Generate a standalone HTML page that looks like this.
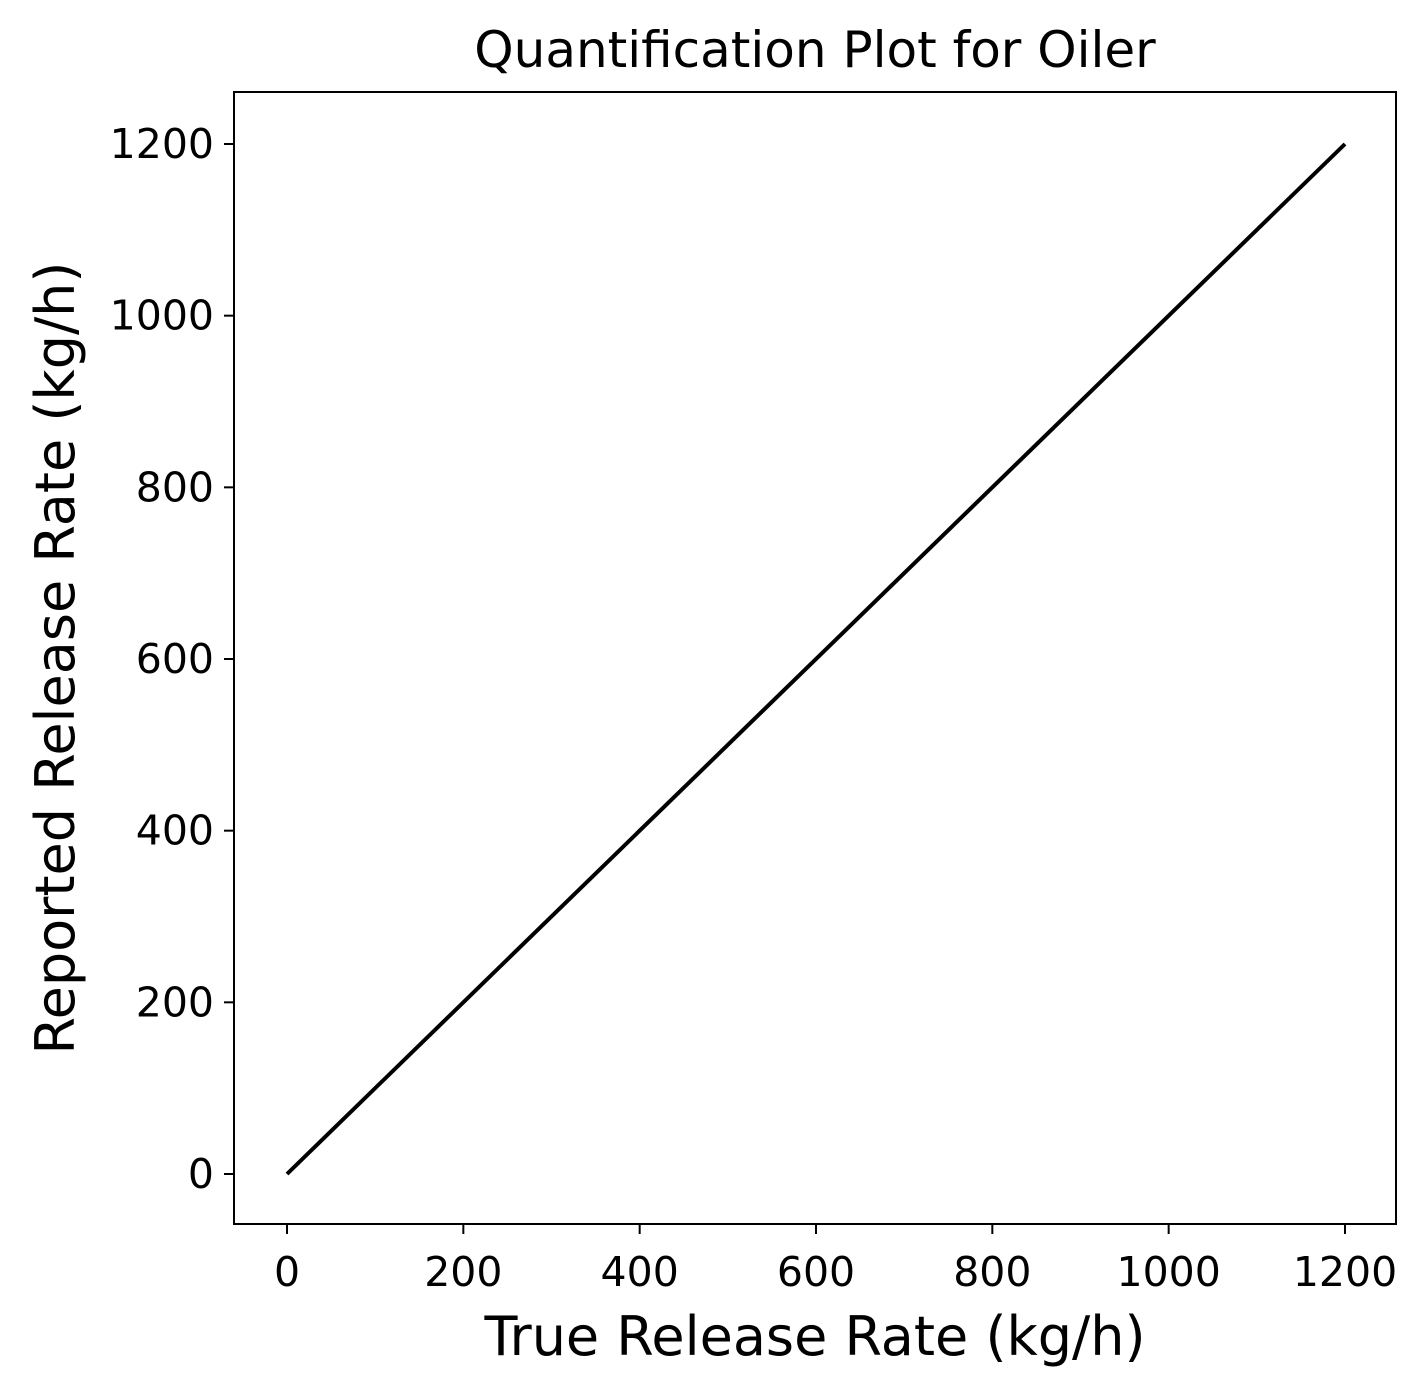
<!DOCTYPE html>
<html><head><meta charset="utf-8"><style>
html,body{margin:0;padding:0;background:#fff;}
svg{display:block;font-family:"DejaVu Sans","Liberation Sans",sans-serif;}
</style></head><body>
<svg id="chart" width="1426" height="1395" viewBox="0 0 1426 1395">
<rect x="0" y="0" width="1426" height="1395" fill="#fff"/>
<text x="815" y="67" text-anchor="middle" font-size="50">Quantification Plot for Oiler</text>
<g id="xticks"></g>
<g id="yticks"></g>
<g id="series"></g>
<rect x="234" y="92" width="1162" height="1132" fill="none" stroke="#000" stroke-width="2"/>
<text x="815" y="1355" text-anchor="middle" font-size="54">True Release Rate (kg/h)</text>
<text transform="translate(74,658) rotate(-90)" text-anchor="middle" font-size="54">Reported Release Rate (kg/h)</text>
</svg>
<script>
const xTicks = [0, 200, 400, 600, 800, 1000, 1200];
const yTicks = [0, 200, 400, 600, 800, 1000, 1200];
const lineX = [0, 1200];
const lineY = [0, 1200];
const NS = "http://www.w3.org/2000/svg";
function sx(v){ return 287 + v * (1345 - 287) / 1200; }
function sy(v){ return 1174 - v * (1174 - 144) / 1200; }
const gx = document.getElementById('xticks');
xTicks.forEach(t => {
  const l = document.createElementNS(NS,'line');
  l.setAttribute('x1', sx(t)); l.setAttribute('x2', sx(t));
  l.setAttribute('y1', 1224); l.setAttribute('y2', 1234);
  l.setAttribute('stroke', '#000'); l.setAttribute('stroke-width', 2);
  
  
  gx.appendChild(l);
  const tx = document.createElementNS(NS,'text');
  tx.setAttribute('x', sx(t)); tx.setAttribute('y', 1286);
  tx.setAttribute('text-anchor', 'middle'); tx.setAttribute('font-size', '41');
  tx.textContent = t;
  
  
  gx.appendChild(tx);
});
const gy = document.getElementById('yticks');
yTicks.forEach(t => {
  const l = document.createElementNS(NS,'line');
  l.setAttribute('x1', 224); l.setAttribute('x2', 234);
  l.setAttribute('y1', sy(t)); l.setAttribute('y2', sy(t));
  l.setAttribute('stroke', '#000'); l.setAttribute('stroke-width', 2);
  
  
  gy.appendChild(l);
  const tx = document.createElementNS(NS,'text');
  tx.setAttribute('x', 214); tx.setAttribute('y', sy(t) + 14);
  tx.setAttribute('text-anchor', 'end'); tx.setAttribute('font-size', '41');
  tx.textContent = t;
  
  
  gy.appendChild(tx);
});
const gs = document.getElementById('series');
const p = document.createElementNS(NS,'polyline');
p.setAttribute('points', lineX.map((x,i) => sx(x) + ',' + sy(lineY[i])).join(' '));
p.setAttribute('fill', 'none'); p.setAttribute('stroke', '#000'); p.setAttribute('stroke-width', 4);


gs.appendChild(p);
</script>
</body></html>
